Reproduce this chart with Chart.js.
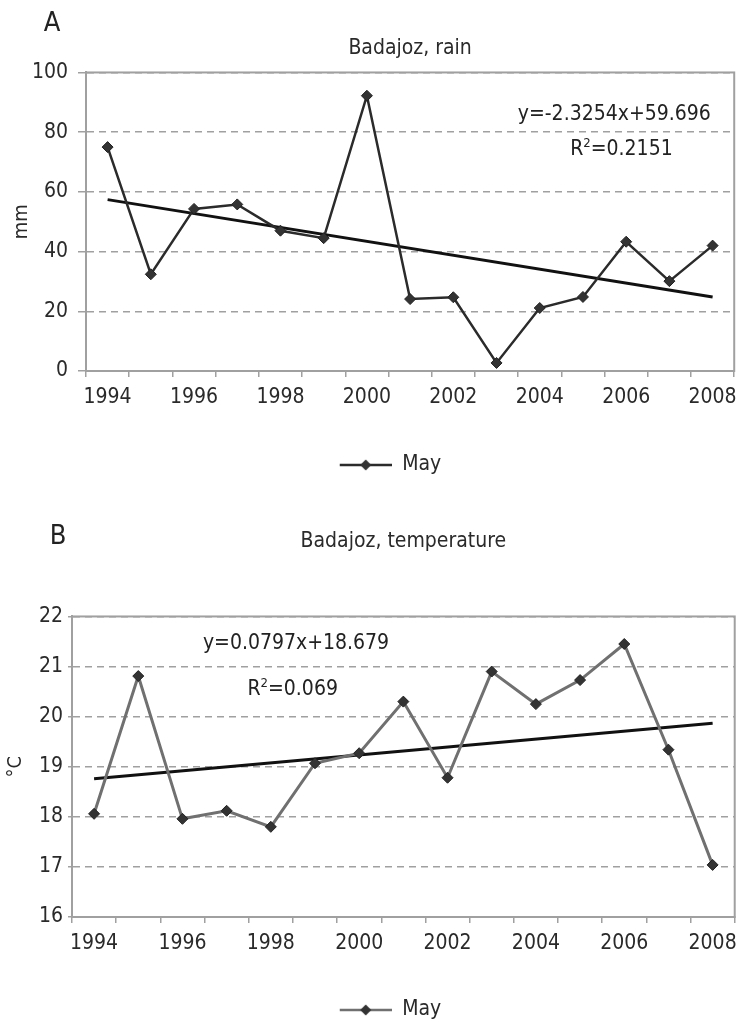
<!DOCTYPE html>
<html>
<head>
<meta charset="utf-8">
<script src="https://cdn.jsdelivr.net/npm/chart.js@4.4.1/dist/chart.umd.min.js"></script>
<style>
  html, body { margin: 0; padding: 0; background: #fff; overflow: hidden; }
  .panel { position: absolute; left: 0; width: 745px; }
  #wrapA { top: 0; height: 490px; }
  #wrapB { top: 490px; height: 545px; }
</style>
</head>
<body>
<div class="panel" id="wrapA"><canvas id="chartA" width="745" height="490"></canvas></div>
<div class="panel" id="wrapB"><canvas id="chartB" width="745" height="545"></canvas></div>
<script>
// data
const years = ['1994', '1995', '1996', '1997', '1998', '1999', '2000', '2001',
               '2002', '2003', '2004', '2005', '2006', '2007', '2008'];
const rainMay = [75, 32.4, 54.3, 55.8, 47, 44.5, 92.2, 24.1, 24.7, 2.7, 21.1, 24.8, 43.3, 30.1, 42];
const rainTrend = [57.4, null, null, null, null, null, null, null, null, null, null, null, null, null, 24.8];
const tempMay = [18.06, 20.81, 17.96, 18.12, 17.8, 19.07, 19.27, 20.3, 18.78, 20.9, 20.25, 20.73, 21.45, 19.34, 17.04];
const tempTrend = [18.76, null, null, null, null, null, null, null, null, null, null, null, null, null, 19.87];
const rainTicks = [0, 20, 40, 60, 80, 100];
const tempTicks = [16, 17, 18, 19, 20, 21, 22];

const FONT = "'Liberation Sans Narrow', 'DejaVu Sans Condensed', 'Roboto Condensed', sans-serif";
const GRID = '#a0a0a0';
Chart.defaults.font.family = FONT;
Chart.defaults.color = '#2a2a2a';

// legend swatch: line with a diamond, blank room on the left to push it right
function legendSwatch(lineColor) {
    const c = document.createElement('canvas');
    c.width = 90; c.height = 14;
    const g = c.getContext('2d');
    g.strokeStyle = lineColor;
    g.lineWidth = 2.5;
    g.beginPath(); g.moveTo(38, 7); g.lineTo(90, 7); g.stroke();
    g.fillStyle = '#333';
    g.beginPath(); g.moveTo(64, 1.5); g.lineTo(69.5, 7); g.lineTo(64, 12.5); g.lineTo(58.5, 7); g.closePath(); g.fill();
    return c;
}

const frame = {
    id: 'frame',
    beforeDatasetsDraw(chart) {
        const a = chart.chartArea, ctx = chart.ctx;
        ctx.save();
        ctx.strokeStyle = GRID;
        ctx.lineWidth = 2;
        ctx.strokeRect(a.left, a.top, a.right - a.left, a.bottom - a.top);
        ctx.restore();
    }
};

const notes = {
    id: 'notes',
    afterDraw(chart, args, o) {
        const a = chart.chartArea, ctx = chart.ctx;
        const w = a.right - a.left, h = a.bottom - a.top;
        ctx.save();
        ctx.fillStyle = '#222';
        ctx.textBaseline = 'middle';
        ctx.textAlign = 'center';
        ctx.font = '27px ' + FONT;
        ctx.fillText(o.letter, o.letterX, o.letterY);

        ctx.font = '21px ' + FONT;
        ctx.fillText(o.equation, a.left + w * o.eqX, a.top + h * o.eqY);

        // R² with a raised 2
        const rx = a.left + w * o.r2X, ry = a.top + h * o.r2Y;
        const big = '21px ' + FONT, small = '13px ' + FONT;
        ctx.font = big; const wR = ctx.measureText('R').width, wRest = ctx.measureText(o.r2).width;
        ctx.font = small; const w2 = ctx.measureText('2').width;
        let x = rx - (wR + w2 + wRest) / 2;
        ctx.textAlign = 'left';
        ctx.font = big; ctx.fillText('R', x, ry); x += wR;
        ctx.font = small; ctx.fillText('2', x, ry - 6); x += w2;
        ctx.font = big; ctx.fillText(o.r2, x, ry);
        ctx.restore();
    }
};

function makeChart(id, cfg) {
    return new Chart(document.getElementById(id), {
        type: 'line',
        data: {
            labels: years,
            datasets: [{
                label: 'May',
                data: cfg.values,
                borderColor: cfg.lineColor,
                borderWidth: cfg.lineWidth,
                pointStyle: 'rectRot',
                pointRadius: 5.5,
                pointBackgroundColor: '#333',
                pointBorderColor: '#222',
                pointBorderWidth: 1,
                tension: 0
            }, {
                label: 'trend',
                data: cfg.trend,
                borderColor: '#111',
                borderWidth: 3,
                pointRadius: 0,
                spanGaps: true
            }]
        },
        options: {
            responsive: false,
            animation: false,
            layout: { padding: { left: 0, right: 2, top: 0, bottom: 4.5 } },
            plugins: {
                tooltip: { enabled: false },
                title: {
                    display: true,
                    text: cfg.title,
                    fullSize: false,
                    font: { size: 21, weight: 'normal', lineHeight: 1.26 },
                    color: '#2a2a2a',
                    padding: cfg.titlePad
                },
                legend: {
                    position: 'bottom',
                    labels: {
                        usePointStyle: true,
                        pointStyleWidth: 90,
                        font: { size: 21 },
                        padding: 10,
                        generateLabels: chart => [{
                            text: 'May', datasetIndex: 0, pointStyle: cfg.swatch,
                            fontColor: '#2a2a2a', lineWidth: 0, hidden: false
                        }]
                    }
                },
                notes: cfg.notes
            },
            scales: {
                x: {
                    offset: true,
                    afterFit: s => { s.height = cfg.xHeight; },
                    grid: { offset: true, drawOnChartArea: false, drawTicks: true, tickLength: 6, tickColor: GRID, lineWidth: 1.5 },
                    border: { color: GRID, width: 2 },
                    ticks: {
                        autoSkip: false, maxRotation: 0, padding: 8,
                        font: { size: 21 },
                        callback: function (v, i) { return i % 2 === 0 ? this.getLabelForValue(v) : ''; }
                    }
                },
                y: {
                    min: cfg.ticks[0],
                    max: cfg.ticks[cfg.ticks.length - 1],
                    afterFit: s => { s.width = cfg.yWidth; },
                    afterBuildTicks: s => { s.ticks = cfg.ticks.map(v => ({ value: v })); },
                    grid: { color: GRID, lineWidth: 1.5, tickLength: cfg.tickLen, tickColor: GRID },
                    border: { color: GRID, width: 2, dash: [7, 5] },
                    ticks: { padding: cfg.tickPad, font: { size: 21 } },
                    title: { display: true, text: cfg.yTitle, font: { size: 20 }, padding: { top: cfg.yTitlePad } }
                }
            }
        },
        plugins: [frame, notes]
    });
}

makeChart('chartA', {
    values: rainMay, trend: rainTrend, ticks: rainTicks,
    lineColor: '#2b2b2b', lineWidth: 2.5, swatch: legendSwatch('#2b2b2b'),
    title: 'Badajoz, rain', titlePad: { top: 35, bottom: 11 },
    yTitle: 'mm', yTitlePad: 10, yWidth: 86, tickLen: 8, tickPad: 10, xHeight: 73.5,
    notes: { letter: 'A', letterX: 52, letterY: 24,
             equation: 'y=-2.3254x+59.696', eqX: 0.815, eqY: 0.140,
             r2: '=0.2151', r2X: 0.826, r2Y: 0.258 }
});

makeChart('chartB', {
    values: tempMay, trend: tempTrend, ticks: tempTicks,
    lineColor: '#707070', lineWidth: 3, swatch: legendSwatch('#707070'),
    title: 'Badajoz, temperature', titlePad: { top: 38, bottom: 62 },
    yTitle: '°C', yTitlePad: 3.5, yWidth: 72, tickLen: 4, tickPad: 5, xHeight: 72.5,
    notes: { letter: 'B', letterX: 58, letterY: 47,
             equation: 'y=0.0797x+18.679', eqX: 0.338, eqY: 0.09,
             r2: '=0.069', r2X: 0.333, r2Y: 0.243 }
});
</script>
</body>
</html>
